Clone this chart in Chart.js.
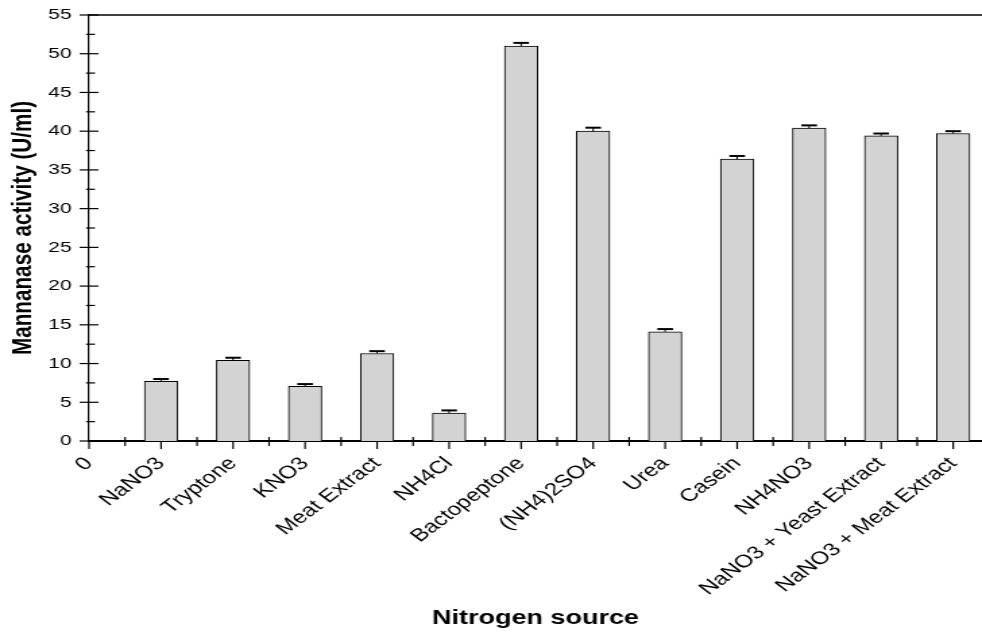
<!DOCTYPE html>
<html>
<head>
<meta charset="utf-8">
<script src="https://cdn.jsdelivr.net/npm/chart.js@4/dist/chart.umd.min.js"></script>
<style>
  html, body { margin: 0; padding: 0; background: #fff; overflow: hidden; }
  /* the plot is laid out at 728px wide and shown stretched across the 982px page */
  #wrap { width: 728px; height: 634px; transform: scaleX(1.3489); transform-origin: 0 0; }
  canvas { display: block; }
</style>
</head>
<body>
<div id="wrap"><canvas id="chart" width="728" height="634"></canvas></div>
<script>
// Nitrogen sources tested (bars sit at positions 1..12, the origin is labelled "0")
const originLabel = '0';
const categories = ['NaNO3', 'Tryptone', 'KNO3', 'Meat Extract', 'NH4Cl', 'Bactopeptone',
  '(NH4)2SO4', 'Urea', 'Casein', 'NH4NO3', 'NaNO3 + Yeast Extract', 'NaNO3 + Meat Extract'];
// Mannanase activity (U/ml) and its standard error
const activity = [7.7, 10.4, 7.05, 11.3, 3.6, 51.0, 40.0, 14.1, 36.4, 40.4, 39.4, 39.7];
const errors   = [0.3, 0.35, 0.3, 0.3, 0.35, 0.4, 0.45, 0.35, 0.4, 0.35, 0.3, 0.3];
// y axis range and tick spacing
const yMin = 0, yMax = 55, yStep = 5;
// x axis runs a little past the last category
const xMax = 12.4;

const FONT = "'Liberation Sans', Arial, Helvetica, sans-serif";

// axis tick marks (major + minor), top frame line and error bars
const axisDecor = {
  id: 'axisDecor',
  afterDatasetsDraw(chart) {
    const { ctx, scales: { y } } = chart;
    const meta = chart.getDatasetMeta(0);
    ctx.save();
    ctx.strokeStyle = '#000';
    meta.data.forEach((bar, i) => {
      const top = y.getPixelForValue(activity[i] + errors[i]);
      ctx.lineWidth = 1;
      ctx.beginPath(); ctx.moveTo(bar.x, bar.y); ctx.lineTo(bar.x, top); ctx.stroke();
      ctx.lineWidth = 2;
      ctx.beginPath(); ctx.moveTo(bar.x - 5.8, top); ctx.lineTo(bar.x + 5.8, top); ctx.stroke();
    });
    ctx.restore();
  },
  afterDraw(chart) {
    const { ctx, chartArea: a, scales: { x, y } } = chart;
    ctx.save();
    ctx.strokeStyle = '#000';
    // frame line along the top
    ctx.lineWidth = 1.5;
    ctx.beginPath(); ctx.moveTo(a.left, a.top); ctx.lineTo(a.right, a.top); ctx.stroke();
    // y ticks
    ctx.lineWidth = 1.2;
    for (let v = yMin; v <= yMax; v += yStep) {
      const py = y.getPixelForValue(v);
      ctx.beginPath(); ctx.moveTo(a.left - 7, py); ctx.lineTo(a.left + 7, py); ctx.stroke();
    }
    for (let v = yMin + yStep / 2; v < yMax; v += yStep) {
      const py = y.getPixelForValue(v);
      ctx.beginPath(); ctx.moveTo(a.left - 2.2, py); ctx.lineTo(a.left + 4.4, py); ctx.stroke();
    }
    // x ticks: majors under each category, minors between them
    for (let v = 0; v <= categories.length; v++) {
      const px = x.getPixelForValue(v);
      ctx.beginPath(); ctx.moveTo(px, a.bottom); ctx.lineTo(px, a.bottom + 8); ctx.stroke();
    }
    for (let v = 0.5; v <= xMax; v += 1) {
      const px = x.getPixelForValue(v);
      ctx.beginPath(); ctx.moveTo(px, a.bottom - 4); ctx.lineTo(px, a.bottom + 5); ctx.stroke();
    }
    ctx.restore();
  }
};

new Chart(document.getElementById('chart'), {
  type: 'bar',
  data: {
    datasets: [{
      data: categories.map((c, i) => ({ x: i + 1, y: activity[i] })),
      backgroundColor: '#d3d3d3',
      borderColor: '#000',
      borderWidth: 1,
      barThickness: 24.7
    }]
  },
  options: {
    responsive: false,
    animation: false,
    devicePixelRatio: 1,
    layout: { padding: { top: 15, left: 0, right: 0, bottom: 0 } },
    plugins: { legend: { display: false }, tooltip: { enabled: false } },
    scales: {
      x: {
        type: 'linear',
        offset: false,
        min: 0,
        max: xMax,
        afterBuildTicks(scale) {
          scale.ticks = [0, ...categories.map((c, i) => i + 1)].map(v => ({ value: v }));
        },
        grid: { display: false, drawTicks: false, offset: false },
        border: { display: true, color: '#000', width: 2 },
        ticks: {
          autoSkip: false,
          minRotation: 45,
          maxRotation: 45,
          padding: 12,
          color: '#000',
          font: { family: FONT, size: 18 },
          callback: v => (v === 0 ? originLabel : categories[v - 1])
        },
        title: {
          display: true,
          text: 'Nitrogen source',
          color: '#000',
          font: { family: FONT, size: 20, weight: 'bold' },
          padding: { top: 0, bottom: 4 }
        },
        afterFit(scale) {
          scale.height = 193;
          scale.paddingLeft = 0;
          scale.paddingRight = 0;
        }
      },
      y: {
        min: yMin,
        max: yMax,
        grid: { display: false, drawTicks: false },
        border: { display: true, color: '#000', width: 1.2 },
        ticks: {
          stepSize: yStep,
          padding: 13,
          color: '#000',
          font: { family: FONT, size: 15.5 }
        },
        title: {
          display: true,
          text: 'Mannanase activity (U/ml)',
          color: '#000',
          font: { family: FONT, size: 20.7, weight: 'bold' },
          padding: { top: 5, bottom: 0 }
        },
        afterFit(scale) {
          scale.width = 66;
          scale.paddingTop = 0;
          scale.paddingBottom = 0;
        }
      }
    }
  },
  plugins: [axisDecor]
});
</script>
</body>
</html>
